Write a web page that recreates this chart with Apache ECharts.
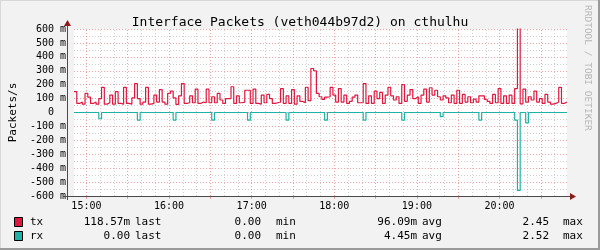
<!DOCTYPE html>
<html><head><meta charset="utf-8">
<script src="https://cdn.jsdelivr.net/npm/echarts@6/dist/echarts.min.js"></script>
<style>html,body{margin:0;padding:0;background:#F2F2F2}#c{width:600px;height:250px}</style>
</head><body><div id="c"></div>
<script>
// ---- data (values in milli packets/s) ----
const startMinute = 891;      // 14:51
const stepMinutes = 2;
const txValues = [
  150,65,75,60,137,110,65,75,60,100,180,60,70,125,60,150,65,60,180,65,60,105,208,100,60,75,180,60,65,125,75,165,75,60,137,153,
  105,58,120,208,65,70,120,70,168,65,75,70,168,70,113,70,137,90,65,100,100,185,65,120,70,75,160,160,65,168,65,60,125,70,130,100,
  65,70,75,172,65,120,65,165,60,120,80,70,180,85,316,300,137,113,95,110,113,180,125,75,172,75,125,65,80,110,125,70,70,208,65,120,
  65,153,100,144,65,125,180,120,90,113,65,200,80,125,165,100,113,65,125,168,75,178,125,160,113,90,120,105,70,125,65,160,65,130,75,
  113,70,96,75,120,120,95,80,65,130,70,172,65,120,65,125,65,172,2450,62,168,75,113,90,153,75,100,65,130,75,60,65,75,180,65,75
];
const rxValues = [
  0,0,0,0,0,0,0,0,0,45,0,0,0,0,0,0,0,0,0,0,
  0,0,0,55,0,0,0,0,0,0,0,0,0,0,0,0,55,0,0,0,
  0,0,0,0,0,0,0,0,0,0,55,0,0,0,0,0,0,0,0,0,
  0,0,0,55,0,0,0,0,0,0,0,0,0,0,0,0,0,55,0,0,
  0,0,0,0,0,0,0,0,0,0,0,55,0,0,0,0,0,0,0,0,
  0,0,0,0,0,55,0,0,0,0,0,0,0,0,0,0,0,0,0,55,
  0,0,0,0,0,0,0,0,0,0,0,0,0,30,0,0,0,0,0,0,
  0,0,0,0,0,0,0,55,0,0,0,0,0,0,0,0,0,0,0,0,
  55,560,0,0,75,0,0,0,0,0,0,0,0,0,0,0,0,0,0
];
const hourTicks = [900, 960, 1020, 1080, 1140, 1200];
const hourLabels = ['15:00', '16:00', '17:00', '18:00', '19:00', '20:00'];
const majorGridTimes = [900, 930, 960, 990, 1020, 1050, 1080, 1110, 1140, 1170, 1200, 1230];
const minorGridTimes = [910, 920, 940, 950, 970, 980, 1000, 1010, 1030, 1040, 1060, 1070, 1090, 1100, 1120, 1130, 1150, 1160, 1180, 1190, 1210, 1220, 1240];
const seriesNames = ['tx', 'rx'];
const seriesColors = ['#E0173F', '#1EB2A6'];
const lastValues = ['118.57m', '0.00'];
const minValues = ['0.00', '0.00'];
const avgValues = ['96.09m', '4.45m'];
const maxValues = ['2.45', '2.52'];
const titleText = 'Interface Packets (veth044b97d2) on cthulhu';
const yAxisName = 'Packets/s';
const creditText = 'RRDTOOL / TOBI OETIKER';

// ---- build ----
const endMinute = startMinute + txValues.length * stepMinutes;
const txData = txValues.map((v, i) => [startMinute + i * stepMinutes, v]);
txData.push([endMinute, txValues[txValues.length - 1]]);
const rxData = rxValues.map((v, i) => [startMinute + i * stepMinutes, -v]);
rxData.push([endMinute, -rxValues[rxValues.length - 1]]);

const MONO = '"DejaVu Sans Mono", "Liberation Mono", monospace';
const G = {left: 67, top: 29, width: 500, height: 167};
const axisColor = '#4a4a4a';
const arrowColor = '#8E1A1A';
const majorColor = 'rgba(222,90,90,0.55)';
const minorColor = 'rgba(150,150,150,0.45)';

function draw() {
  const gridLines = [];
  minorGridTimes.forEach(t => gridLines.push({xAxis: t, lineStyle: {color: minorColor, type: [1, 2], width: 1}}));
  majorGridTimes.forEach(t => gridLines.push({xAxis: t, lineStyle: {color: majorColor, type: [1, 2], width: 1}}));

  const graphics = [
    {type: 'line', shape: {x1: 0.5, y1: 0, x2: 0.5, y2: 250}, style: {stroke: '#d8d8d8', lineWidth: 1}},
    {type: 'line', shape: {x1: 0, y1: 0.5, x2: 600, y2: 0.5}, style: {stroke: '#d8d8d8', lineWidth: 1}},
    {type: 'line', shape: {x1: 599, y1: 0, x2: 599, y2: 250}, style: {stroke: '#9a9a9a', lineWidth: 2}},
    {type: 'line', shape: {x1: 0, y1: 249, x2: 600, y2: 249}, style: {stroke: '#9a9a9a', lineWidth: 2}},
    {type: 'line', z: 50, shape: {x1: G.left + 0.5, y1: G.top + G.height + 4, x2: G.left + 0.5, y2: G.top - 4}, style: {stroke: axisColor, lineWidth: 1}},
    {type: 'line', z: 50, shape: {x1: G.left - 4, y1: G.top + G.height + 0.5, x2: G.left + G.width + 4, y2: G.top + G.height + 0.5}, style: {stroke: axisColor, lineWidth: 1}},
    {type: 'polygon', z: 51, shape: {points: [[G.left + 0.5, G.top - 9], [G.left - 3, G.top - 3], [G.left + 4, G.top - 3]]}, style: {fill: arrowColor}},
    {type: 'polygon', z: 51, shape: {points: [[G.left + G.width + 9, G.top + G.height + 0.5], [G.left + G.width + 3, G.top + G.height - 3], [G.left + G.width + 3, G.top + G.height + 4]]}, style: {fill: arrowColor}},
    {type: 'text', x: 587, y: 5, rotation: -Math.PI / 2, style: {text: creditText, font: '9.5px ' + MONO, fill: '#b4b4b4', align: 'left', verticalAlign: 'middle'}}
  ];
  const legendX = {box: 14, name: 30, last: 130, lastL: 135, min: 261, minL: 276, avg: 417, avgL: 422, max: 549, maxL: 563};
  const rowY = [222, 236];
  seriesNames.forEach((n, i) => {
    const y = rowY[i];
    const font = '11px ' + MONO;
    graphics.push({type: 'rect', shape: {x: legendX.box + 0.5, y: y - 4.5, width: 8, height: 9}, style: {fill: seriesColors[i], stroke: '#000', lineWidth: 1}});
    const txt = (t, x, align) => ({type: 'text', x: x, y: y, style: {text: t, font: font, fill: '#000', align: align, verticalAlign: 'middle'}});
    graphics.push(txt(n, legendX.name, 'left'));
    graphics.push(txt(lastValues[i], legendX.last, 'right'));
    graphics.push(txt('last', legendX.lastL, 'left'));
    graphics.push(txt(minValues[i], legendX.min, 'right'));
    graphics.push(txt('min', legendX.minL, 'left'));
    graphics.push(txt(avgValues[i], legendX.avg, 'right'));
    graphics.push(txt('avg', legendX.avgL, 'left'));
    graphics.push(txt(maxValues[i], legendX.max, 'right'));
    graphics.push(txt('max', legendX.maxL, 'left'));
  });

  const chart = echarts.init(document.getElementById('c'), null, {renderer: 'canvas'});
  chart.setOption({
    animation: false,
    backgroundColor: '#F2F2F2',
    title: {text: titleText, left: 'center', top: 11, textStyle: {fontFamily: MONO, fontSize: 13, fontWeight: 'normal', color: '#000'}},
    grid: Object.assign({show: true, backgroundColor: '#fff', borderWidth: 0}, G),
    xAxis: {
      type: 'value', min: startMinute, max: endMinute,
      axisLine: {show: false, onZero: false},
      axisTick: {show: true, customValues: majorGridTimes, length: 3, lineStyle: {color: majorColor}},
      axisLabel: {customValues: hourTicks, margin: 5, fontFamily: MONO, fontSize: 10, color: '#000',
        formatter: v => { const k = hourTicks.indexOf(v); return k >= 0 ? hourLabels[k] : ''; }},
      splitLine: {show: false}
    },
    yAxis: {
      type: 'value', min: -600, max: 600, interval: 100,
      name: yAxisName, nameLocation: 'middle', nameGap: 55,
      nameTextStyle: {fontFamily: MONO, fontSize: 11, color: '#000'},
      axisLine: {show: false, onZero: false},
      axisTick: {show: false},
      axisLabel: {margin: 8, fontFamily: MONO, fontSize: 10, color: '#000',
        formatter: v => v === 0 ? '0  ' : v + ' m'},
      splitLine: {show: true, lineStyle: {color: majorColor, type: [1, 2]}},
      minorTick: {show: false, splitNumber: 2},
      minorSplitLine: {show: true, lineStyle: {color: minorColor, type: [1, 2]}}
    },
    graphic: graphics,
    series: [
      {type: 'line', data: [], z: 1, silent: true,
        markLine: {silent: true, symbol: 'none', label: {show: false}, data: gridLines, animation: false}},
      {name: 'rx', type: 'line', step: 'end', data: rxData, showSymbol: false, z: 3,
        lineStyle: {color: seriesColors[1], width: 1.2}, itemStyle: {color: seriesColors[1]}},
      {name: 'tx', type: 'line', step: 'end', data: txData, showSymbol: false, z: 4,
        lineStyle: {color: seriesColors[0], width: 1.2}, itemStyle: {color: seriesColors[0]}}
    ]
  });
}
if (document.fonts && document.fonts.load) {
  Promise.all([
    document.fonts.load('10px "DejaVu Sans Mono"'),
    document.fonts.load('11px "DejaVu Sans Mono"'),
    document.fonts.load('13px "DejaVu Sans Mono"')
  ]).then(draw, draw);
} else {
  draw();
}
</script></body></html>
